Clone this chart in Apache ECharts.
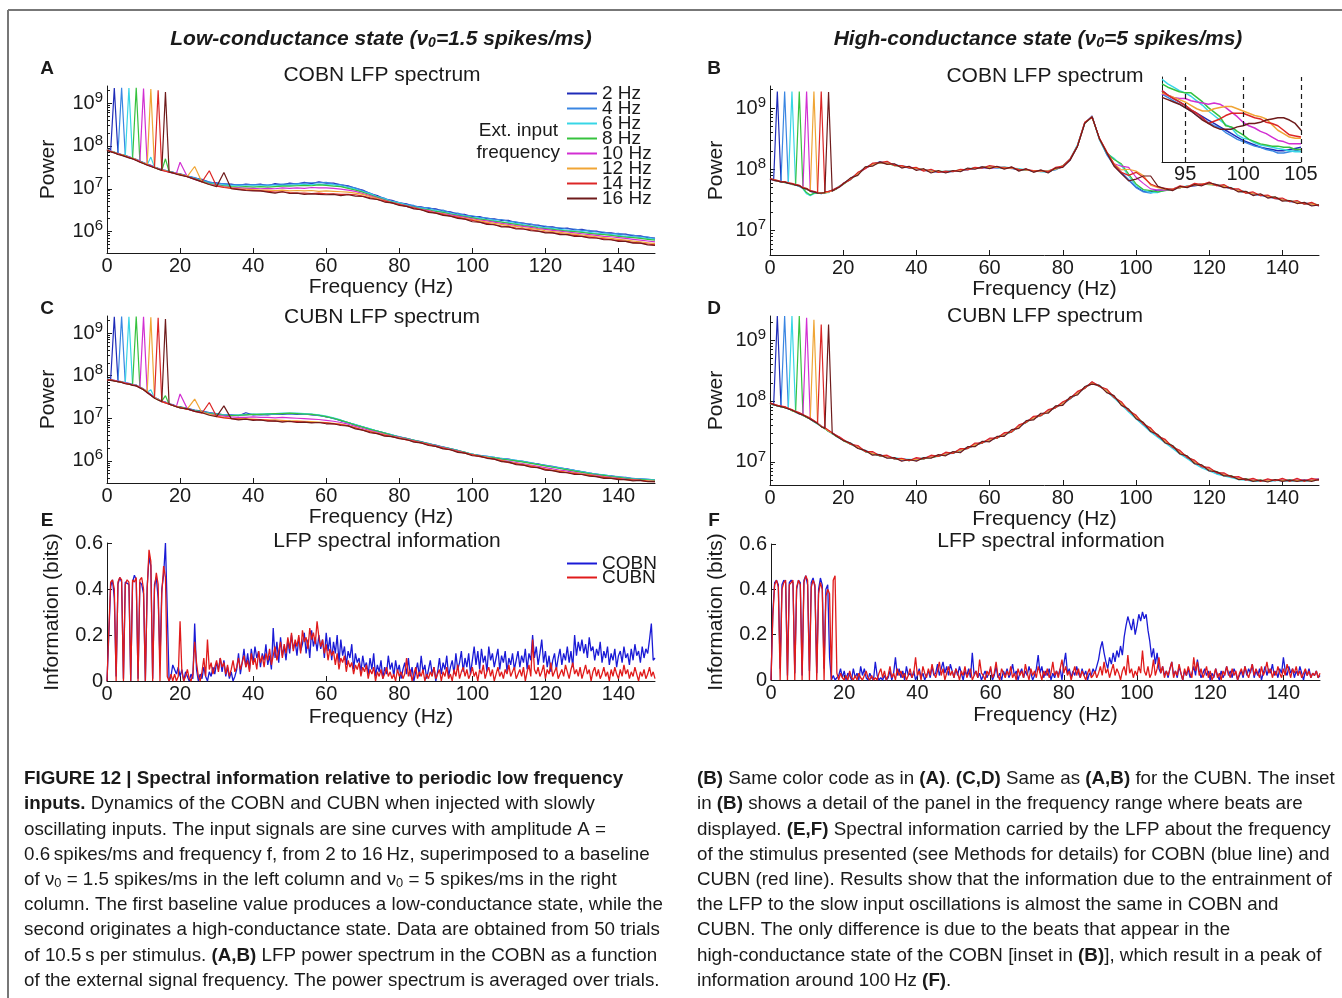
<!DOCTYPE html>
<html>
<head>
<meta charset="utf-8">
<script src="https://cdn.jsdelivr.net/npm/echarts@6/dist/echarts.min.js"></script>
<style>
  html, body { margin: 0; padding: 0; background: #fff; }
  #chart { width: 1342px; height: 998px; }
</style>
</head>
<body>
<div id="chart"></div>
<script>
// ---------- sampling grids and tick values ----------
// spectra: 1 Hz steps up to 20 Hz, then 2 Hz steps up to 150 Hz
const specFreqs = [0,1,2,3,4,5,6,7,8,9,10,11,12,13,14,15,16,17,18,19,20,
  22,24,26,28,30,32,34,36,38,40,42,44,46,48,50,52,54,56,58,60,62,64,66,68,70,72,74,76,78,80,
  82,84,86,88,90,92,94,96,98,100,102,104,106,108,110,112,114,116,118,120,
  122,124,126,128,130,132,134,136,138,140,142,144,146,148,150];
// inset of panel B: 93-105 Hz in 0.5 Hz steps
const insetFreqs = [93,93.5,94,94.5,95,95.5,96,96.5,97,97.5,98,98.5,99,99.5,100,100.5,101,101.5,102,102.5,103,103.5,104,104.5,105];
// information curves: 0-150 Hz in 0.5 Hz steps
const infoFreqs = Array.from({ length: 301 }, (_, i) => i / 2);

const freqTicks = [0, 20, 40, 60, 80, 100, 120, 140];
const decadesLow = [6, 7, 8, 9];
const decadesHigh = [7, 8, 9];
const infoTicks = [0, 0.2, 0.4, 0.6];
const insetTicks = [95, 100, 105];

const inputLabels = ['2 Hz', '4 Hz', '6 Hz', '8 Hz', '10 Hz', '12 Hz', '14 Hz', '16 Hz'];
const inputColors = ['#1f2bb8', '#3a86e2', '#38d6e6', '#36c23e', '#d22fd2', '#f0a535', '#dc2626', '#6e1b1b'];
const netLabels = ['COBN', 'CUBN'];
const netColors = ['#1a1ad6', '#e01b1b'];

// ---------- LFP power spectra, log10(power) on specFreqs ----------
// A: COBN, low-conductance state
const lowCobn2 = [7.93,7.89,9.35,7.83,7.80,7.78,7.74,7.72,7.68,7.65,7.61,7.57,7.55,7.50,7.48,7.44,7.43,7.40,7.39,7.36,7.35,
  7.30,7.25,7.22,7.15,7.14,7.11,7.11,7.08,7.11,7.09, 7.11,7.07,7.12,7.09,7.13,7.11,7.15,7.12,7.16,7.13,
  7.13,7.09,7.07,7.01,6.97,6.89,6.84,6.76,6.73,6.67, 6.65,6.59,6.58,6.54,6.53,6.48,6.46,6.41,6.40,6.35,
  6.35,6.30,6.30,6.26,6.26,6.21,6.20,6.16,6.15,6.11, 6.11,6.07,6.08,6.04,6.05,6.01,6.01,5.97,5.97,5.94, 5.94,5.90,5.90,5.86,5.85];
const lowCobn4 = [7.92,7.88,7.86,7.82,9.36,7.77,7.75,7.71,7.69,7.64,7.60,7.58,7.54,7.51,7.47,7.45,7.42,7.41,7.38,7.37,7.34,
  7.29,7.26,7.20,7.16,7.12,7.12,7.09,7.10,7.09,7.10, 7.09,7.09,7.10,7.11,7.11,7.12,7.13,7.14,7.14,7.15,
  7.11,7.10,7.05,7.02,6.95,6.90,6.82,6.78,6.71,6.68, 6.63,6.61,6.56,6.56,6.51,6.50,6.44,6.43,6.38,6.37,
  6.33,6.32,6.28,6.28,6.24,6.23,6.18,6.18,6.13,6.13, 6.09,6.09,6.06,6.06,6.03,6.03,5.99,5.99,5.95,5.96, 5.92,5.92,5.88,5.88,5.83];
const lowCobn6 = [7.91,7.88,7.85,7.81,7.80,7.76,9.35,7.70,7.68,7.63,7.60,7.56,7.74,7.50,7.46,7.44,7.41,7.40,7.37,7.36,7.33,
  7.29,7.24,7.19,7.13,7.10,7.09,7.07,7.07,7.06,7.07, 7.06,7.07,7.07,7.08,7.08,7.09,7.10,7.10,7.11,7.10,
  7.09,7.06,7.03,6.99,6.93,6.88,6.81,6.76,6.70,6.67, 6.62,6.58,6.55,6.52,6.49,6.46,6.42,6.39,6.36,6.33,
  6.31,6.28,6.26,6.23,6.21,6.19,6.16,6.13,6.11,6.09, 6.07,6.05,6.03,6.02,6.00,5.98,5.96,5.95,5.93,5.91, 5.89,5.88,5.86,5.84,5.82];
const lowCobn8 = [7.92,7.87,7.85,7.82,7.79,7.77,7.73,7.71,9.36,7.64,7.59,7.57,7.53,7.50,7.47,7.43,7.70,7.40,7.38,7.35,7.34,
  7.28,7.23,7.18,7.12,7.09,7.07,7.05,7.04,7.05,7.04, 7.05,7.04,7.05,7.06,7.06,7.07,7.08,7.07,7.09,7.08,
  7.06,7.05,7.01,6.97,6.92,6.86,6.80,6.74,6.69,6.65, 6.61,6.57,6.53,6.51,6.47,6.45,6.41,6.38,6.35,6.32,
  6.29,6.27,6.24,6.22,6.19,6.17,6.14,6.12,6.09,6.07, 6.05,6.03,6.01,6.00,5.98,5.96,5.94,5.93,5.91,5.89, 5.87,5.86,5.84,5.82,5.80];
const lowCobn10 = [7.91,7.88,7.84,7.82,7.79,7.76,7.74,7.70,7.67,7.64,9.34,7.56,7.54,7.49,7.47,7.44,7.41,7.39,7.37,7.36,7.62,
  7.28,7.22,7.17,7.11,7.08,7.05,7.03,7.02,7.01,7.01, 7.00,7.01,7.00,7.02,7.01,7.02,7.01,7.03,7.02,7.02,
  7.01,6.99,6.97,6.94,6.89,6.84,6.78,6.73,6.68,6.64, 6.60,6.56,6.52,6.49,6.45,6.42,6.39,6.36,6.33,6.30,
  6.27,6.25,6.22,6.19,6.17,6.14,6.12,6.10,6.07,6.05, 6.03,6.01,5.99,5.97,5.95,5.93,5.91,5.89,5.88,5.86, 5.84,5.82,5.80,5.78,5.76];
const lowCobn12 = [7.91,7.87,7.85,7.81,7.80,7.77,7.73,7.71,7.68,7.63,7.60,7.57,9.33,7.50,7.46,7.44,7.42,7.39,7.38,7.35,7.34,
  7.29,7.52,7.16,7.10,7.07,7.04,7.02,7.00,6.99,6.98, 6.97,6.97,6.96,6.97,6.95,6.96,6.95,6.96,6.94,6.95,
  6.94,6.93,6.92,6.90,6.87,6.82,6.77,6.72,6.67,6.63, 6.59,6.55,6.51,6.47,6.44,6.41,6.37,6.34,6.31,6.28,
  6.25,6.22,6.19,6.17,6.14,6.12,6.09,6.07,6.05,6.02, 6.00,5.98,5.96,5.94,5.92,5.90,5.88,5.86,5.84,5.82, 5.80,5.78,5.76,5.74,5.72];
const lowCobn14 = [7.90,7.87,7.84,7.81,7.79,7.76,7.73,7.70,7.67,7.63,7.59,7.56,7.53,7.49,9.30,7.43,7.41,7.39,7.37,7.35,7.33,
  7.28,7.23,7.16,7.42,7.06,7.03,7.01,6.99,6.97,6.96, 6.95,6.94,6.92,6.93,6.91,6.90,6.90,6.89,6.90,6.88,
  6.88,6.87,6.87,6.86,6.83,6.79,6.75,6.71,6.67,6.63, 6.59,6.55,6.51,6.47,6.43,6.40,6.36,6.33,6.29,6.26,
  6.22,6.19,6.16,6.13,6.11,6.08,6.06,6.04,6.01,5.99, 5.97,5.95,5.93,5.91,5.89,5.87,5.85,5.83,5.81,5.79, 5.77,5.75,5.73,5.71,5.69];
const lowCobn16 = [7.90,7.86,7.84,7.80,7.78,7.75,7.72,7.70,7.66,7.62,7.59,7.55,7.52,7.49,7.46,7.43,9.26,7.39,7.37,7.34,7.32,
  7.28,7.22,7.16,7.10,7.05,7.38,7.00,6.98,6.96,6.95, 6.95,6.92,6.90,6.93,6.89,6.90,6.87,6.88,6.87,6.86,
  6.87,6.84,6.86,6.83,6.82,6.77,6.75,6.69,6.67,6.61, 6.59,6.53,6.51,6.45,6.43,6.38,6.36,6.31,6.29,6.23,
  6.22,6.17,6.16,6.11,6.11,6.06,6.06,6.02,6.01,5.97, 5.97,5.93,5.93,5.89,5.89,5.85,5.85,5.81,5.81,5.77, 5.77,5.73,5.73,5.69,5.68];

// B: COBN, high-conductance state
const highCobn2 = [7.84,7.83,9.27,7.80,7.79,7.77,7.76,7.74,7.73,7.70,7.67,7.65,7.63,7.61,7.61,7.62,7.63,7.65,7.68,7.72,7.76,
  7.85,7.93,8.03,8.08,8.12,8.10,8.08,8.04,8.03,8.00, 7.99,7.96,7.96,7.95,7.97,7.97,8.00,8.01,8.04,8.02,
  8.04,8.02,8.02,7.99,7.99,7.97,7.97,7.96,8.00,8.04, 8.15,8.38,8.75,8.87,8.49,8.25,8.08,7.95,7.83,7.71,
  7.64,7.63,7.66,7.66,7.67,7.70,7.72,7.73,7.75,7.76, 7.74,7.71,7.69,7.65,7.62,7.59,7.58,7.55,7.53,7.50, 7.48,7.46,7.44,7.42,7.41];
const highCobn4 = [7.85,7.83,7.81,7.80,9.27,7.78,7.76,7.75,7.72,7.70,7.68,7.64,7.62,7.62,7.60,7.62,7.64,7.65,7.69,7.72,7.77,
  7.84,7.94,8.02,8.09,8.11,8.11,8.07,8.05,8.02,8.01, 7.98,7.97,7.95,7.96,7.96,7.98,7.99,8.02,8.02,8.03,
  8.02,8.03,8.01,8.00,7.98,7.98,7.96,7.97,7.99,8.05, 8.16,8.39,8.76,8.86,8.50,8.24,8.06,7.93,7.82,7.70,
  7.63,7.61,7.65,7.67,7.68,7.71,7.72,7.74,7.76,7.77, 7.75,7.72,7.68,7.66,7.63,7.60,7.57,7.56,7.52,7.51, 7.47,7.46,7.45,7.43,7.40];
const highCobn6 = [7.84,7.82,7.81,7.79,7.79,7.77,9.27,7.74,7.72,7.68,7.60,7.57,7.60,7.61,7.60,7.62,7.62,7.66,7.68,7.73,7.76,
  7.83,7.93,8.02,8.07,8.11,8.09,8.07,8.06,8.03,8.01, 7.99,7.98,7.96,7.97,7.98,7.98,8.01,8.02,8.03,8.04,
  8.03,8.04,8.02,8.01,7.99,7.97,7.96,7.95,8.01,8.05, 8.17,8.40,8.76,8.86,8.48,8.26,8.18,8.06,7.89,7.73,
  7.66,7.62,7.62,7.66,7.68,7.70,7.73,7.74,7.75,7.76, 7.74,7.72,7.70,7.64,7.62,7.60,7.58,7.56,7.53,7.49, 7.48,7.47,7.43,7.43,7.41];
const highCobn8 = [7.84,7.83,7.80,7.80,7.78,7.78,7.75,7.75,9.27,7.69,7.62,7.58,7.61,7.62,7.61,7.61,7.63,7.65,7.67,7.72,7.75,
  7.84,7.92,8.02,8.08,8.10,8.10,8.06,8.05,8.03,8.02, 7.99,7.97,7.97,7.96,7.97,7.99,8.00,8.02,8.03,8.03,
  8.03,8.02,8.02,8.00,7.98,7.98,7.97,7.98,8.00,8.06, 8.16,8.38,8.75,8.85,8.50,8.27,8.16,8.09,7.92,7.76,
  7.67,7.65,7.63,7.65,7.67,7.70,7.72,7.74,7.76,7.75, 7.74,7.73,7.69,7.65,7.63,7.60,7.58,7.56,7.54,7.50, 7.49,7.46,7.44,7.44,7.42];
const highCobn10 = [7.84,7.82,7.81,7.80,7.79,7.78,7.76,7.75,7.73,7.70,9.27,7.65,7.63,7.62,7.61,7.62,7.63,7.65,7.68,7.71,7.76,
  7.84,7.93,8.01,8.08,8.11,8.10,8.07,8.05,8.04,8.01, 7.99,7.97,7.96,7.96,7.97,7.98,8.00,8.02,8.03,8.02,
  8.03,8.03,8.02,8.00,7.99,7.98,7.97,7.97,8.01,8.05, 8.16,8.38,8.76,8.86,8.50,8.28,8.09,8.05,8.03,7.87,
  7.77,7.68,7.66,7.66,7.68,7.70,7.72,7.74,7.76,7.76, 7.74,7.72,7.69,7.65,7.62,7.60,7.58,7.56,7.53,7.50, 7.48,7.46,7.44,7.43,7.41];
const highCobn12 = [7.84,7.83,7.81,7.80,7.79,7.78,7.76,7.75,7.73,7.70,7.68,7.65,9.27,7.62,7.61,7.62,7.63,7.65,7.68,7.72,7.76,
  7.84,7.93,8.02,8.08,8.11,8.10,8.07,8.05,8.03,8.01, 7.99,7.97,7.96,7.96,7.97,7.98,8.00,8.02,8.03,8.03,
  8.03,8.03,8.02,8.00,7.99,7.98,7.97,7.97,8.00,8.05, 8.16,8.38,8.76,8.86,8.50,8.28,8.09,7.99,8.00,7.97,
  7.90,7.74,7.70,7.67,7.68,7.70,7.72,7.74,7.76,7.76, 7.74,7.72,7.69,7.65,7.62,7.60,7.58,7.56,7.53,7.50, 7.48,7.46,7.44,7.43,7.41];
const highCobn14 = [7.85,7.83,7.82,7.80,7.80,7.78,7.77,7.75,7.74,7.70,7.69,7.65,7.64,7.62,9.27,7.63,7.64,7.66,7.69,7.72,7.77,
  7.83,7.95,8.01,8.10,8.11,8.13,8.06,8.06,8.02,8.03, 7.97,8.00,7.95,7.97,7.96,8.00,7.99,8.03,8.02,8.06,
  8.04,8.02,8.03,7.99,8.00,7.97,7.98,7.96,8.03,8.05, 8.17,8.38,8.77,8.85,8.51,8.29,8.08,7.95,7.90,7.95,
  7.87,7.76,7.71,7.69,7.67,7.73,7.71,7.77,7.75,7.79, 7.73,7.75,7.68,7.68,7.61,7.63,7.57,7.58,7.52,7.53, 7.47,7.49,7.43,7.46,7.40];
const highCobn16 = [7.84,7.82,7.81,7.79,7.79,7.77,7.76,7.74,7.73,7.69,7.68,7.64,7.63,7.61,7.61,7.62,9.26,7.64,7.68,7.71,7.76,
  7.86,7.90,8.04,8.05,8.12,8.08,8.09,8.02,8.05,7.98, 8.01,7.94,7.98,7.94,7.98,7.96,8.02,8.00,8.04,8.01,
  8.05,8.00,8.04,7.97,8.01,7.95,7.99,7.94,8.02,8.03, 8.15,8.37,8.75,8.86,8.50,8.27,8.05,7.93,7.81,7.84,
  7.89,7.89,7.72,7.68,7.65,7.72,7.70,7.75,7.73,7.78, 7.75,7.70,7.70,7.63,7.64,7.57,7.60,7.53,7.55,7.48, 7.49,7.44,7.46,7.40,7.42];

// C: CUBN, low-conductance state
const lowCubn2 = [7.92,7.91,9.38,7.87,7.86,7.83,7.82,7.79,7.78,7.73,7.69,7.62,7.56,7.49,7.45,7.40,7.38,7.34,7.32,7.28,7.27,
  7.23,7.19,7.17,7.13,7.11,7.08,7.08,7.06,7.13,7.08, 7.09,7.08,7.10,7.09,7.11,7.09,7.10,7.08,7.07,7.03,
  7.00,6.94,6.90,6.84,6.80,6.74,6.70,6.65,6.61,6.56, 6.53,6.48,6.45,6.40,6.37,6.32,6.29,6.24,6.20,6.15,
  6.13,6.10,6.08,6.05,6.04,6.00,5.99,5.95,5.93,5.89, 5.87,5.83,5.81,5.77,5.75,5.71,5.69,5.66,5.65,5.62, 5.61,5.58,5.58,5.56,5.55];
const lowCubn4 = [7.91,7.90,7.89,7.86,9.39,7.83,7.81,7.79,7.77,7.72,7.68,7.61,7.55,7.48,7.44,7.39,7.37,7.33,7.31,7.28,7.25,
  7.22,7.18,7.16,7.12,7.10,7.08,7.07,7.07,7.08,7.09, 7.08,7.09,7.09,7.10,7.10,7.10,7.09,7.09,7.06,7.04,
  6.99,6.95,6.89,6.85,6.79,6.75,6.69,6.66,6.60,6.57, 6.52,6.49,6.44,6.41,6.36,6.33,6.28,6.25,6.19,6.16,
  6.12,6.11,6.07,6.06,6.03,6.01,5.98,5.96,5.92,5.90, 5.86,5.84,5.80,5.78,5.74,5.72,5.68,5.67,5.64,5.63, 5.60,5.59,5.57,5.57,5.55];
const lowCubn6 = [7.92,7.90,7.88,7.87,7.85,7.82,9.38,7.78,7.77,7.72,7.68,7.61,7.67,7.48,7.44,7.40,7.36,7.34,7.30,7.28,7.25,
  7.22,7.18,7.15,7.12,7.10,7.08,7.07,7.08,7.09,7.10, 7.10,7.11,7.11,7.12,7.12,7.12,7.11,7.10,7.08,7.05,
  7.01,6.96,6.90,6.85,6.80,6.75,6.70,6.65,6.61,6.56, 6.52,6.48,6.44,6.40,6.36,6.32,6.28,6.24,6.20,6.16,
  6.12,6.10,6.08,6.05,6.03,6.01,5.98,5.95,5.92,5.89, 5.86,5.83,5.80,5.77,5.74,5.71,5.69,5.67,5.64,5.62, 5.60,5.58,5.57,5.56,5.55];
const lowCubn8 = [7.91,7.91,7.88,7.86,7.85,7.82,7.81,7.78,9.39,7.72,7.67,7.62,7.54,7.49,7.43,7.40,7.53,7.33,7.31,7.27,7.26,
  7.22,7.18,7.15,7.11,7.09,7.07,7.06,7.07,7.08,7.09, 7.09,7.10,7.11,7.11,7.12,7.11,7.10,7.09,7.07,7.04,
  7.00,6.95,6.90,6.84,6.79,6.74,6.70,6.65,6.60,6.56, 6.52,6.48,6.44,6.40,6.36,6.32,6.28,6.24,6.20,6.15,
  6.12,6.09,6.07,6.04,6.02,6.00,5.97,5.94,5.91,5.88, 5.85,5.82,5.79,5.76,5.73,5.70,5.68,5.66,5.63,5.61, 5.59,5.57,5.56,5.55,5.54];
const lowCubn10 = [7.91,7.90,7.89,7.87,7.84,7.83,7.80,7.79,7.76,7.73,9.38,7.61,7.55,7.48,7.44,7.39,7.37,7.33,7.31,7.28,7.57,
  7.22,7.17,7.14,7.10,7.07,7.05,7.03,7.02,7.02,7.03, 7.02,7.02,7.01,7.02,7.01,7.00,6.99,6.98,6.97,6.95,
  6.93,6.90,6.86,6.81,6.76,6.71,6.67,6.62,6.58,6.55, 6.51,6.47,6.43,6.39,6.35,6.31,6.27,6.23,6.19,6.14,
  6.11,6.08,6.05,6.02,5.99,5.96,5.93,5.90,5.87,5.84, 5.81,5.78,5.76,5.73,5.70,5.68,5.66,5.63,5.61,5.59, 5.57,5.56,5.54,5.53,5.52];
const lowCubn12 = [7.91,7.90,7.88,7.86,7.85,7.82,7.80,7.78,7.77,7.72,7.68,7.62,9.37,7.48,7.44,7.39,7.36,7.34,7.30,7.28,7.25,
  7.22,7.45,7.13,7.09,7.05,7.02,7.00,6.99,6.99,6.98, 6.97,6.96,6.96,6.95,6.94,6.94,6.93,6.92,6.91,6.90,
  6.88,6.86,6.83,6.78,6.73,6.69,6.65,6.61,6.57,6.54, 6.50,6.46,6.42,6.38,6.34,6.30,6.26,6.22,6.18,6.14,
  6.11,6.08,6.04,6.01,5.97,5.94,5.91,5.88,5.85,5.81, 5.78,5.76,5.73,5.71,5.69,5.67,5.64,5.62,5.60,5.58, 5.56,5.55,5.54,5.53,5.52];
const lowCubn14 = [7.90,7.90,7.88,7.86,7.84,7.82,7.80,7.78,7.76,7.72,7.67,7.61,7.54,7.48,9.36,7.39,7.36,7.33,7.30,7.27,7.25,
  7.21,7.16,7.12,7.37,7.04,7.01,6.99,6.98,6.97,6.97, 6.96,6.95,6.93,6.93,6.92,6.92,6.91,6.90,6.90,6.89,
  6.87,6.85,6.82,6.77,6.72,6.68,6.64,6.60,6.57,6.53, 6.49,6.46,6.42,6.38,6.34,6.30,6.26,6.22,6.18,6.14,
  6.10,6.07,6.04,6.00,5.96,5.93,5.90,5.87,5.84,5.80, 5.77,5.75,5.72,5.70,5.68,5.66,5.63,5.61,5.59,5.58, 5.56,5.55,5.54,5.52,5.51];
const lowCubn16 = [7.90,7.89,7.87,7.86,7.84,7.81,7.80,7.77,7.76,7.71,7.67,7.60,7.54,7.47,7.43,7.39,9.33,7.33,7.30,7.27,7.24,
  7.22,7.16,7.13,7.07,7.04,7.29,6.99,6.96,6.98,6.95, 6.96,6.93,6.94,6.91,6.93,6.90,6.91,6.89,6.90,6.87,
  6.87,6.83,6.82,6.75,6.72,6.66,6.64,6.58,6.57,6.52, 6.50,6.44,6.42,6.36,6.34,6.28,6.26,6.20,6.18,6.12,
  6.11,6.06,6.04,5.98,5.97,5.91,5.90,5.85,5.84,5.78, 5.77,5.73,5.72,5.68,5.68,5.64,5.63,5.59,5.59,5.56, 5.56,5.53,5.54,5.51,5.51];

// D: CUBN, high-conductance state
const highCubn2 = [7.96,7.94,9.40,7.91,7.90,7.88,7.85,7.82,7.80,7.77,7.74,7.71,7.67,7.63,7.59,7.55,7.51,7.47,7.44,7.40,7.36,
  7.30,7.23,7.18,7.13,7.11,7.07,7.06,7.03,7.03,7.03, 7.06,7.07,7.10,7.12,7.15,7.18,7.23,7.27,7.32,7.35,
  7.40,7.44,7.50,7.57,7.66,7.71,7.77,7.82,7.90,7.95, 8.04,8.12,8.22,8.29,8.25,8.16,8.06,7.95,7.84,7.72,
  7.61,7.51,7.42,7.33,7.24,7.15,7.07,6.99,6.92,6.87, 6.82,6.78,6.76,6.72,6.71,6.69,6.69,6.68,6.70,6.69, 6.70,6.69,6.69,6.70,6.71];
const highCubn4 = [7.95,7.94,7.92,7.91,9.40,7.87,7.85,7.82,7.79,7.77,7.73,7.71,7.66,7.63,7.58,7.55,7.50,7.47,7.43,7.39,7.36,
  7.29,7.24,7.17,7.14,7.10,7.08,7.05,7.04,7.02,7.05, 7.05,7.09,7.09,7.13,7.14,7.19,7.22,7.28,7.31,7.37,
  7.39,7.46,7.49,7.58,7.65,7.73,7.76,7.84,7.89,7.97, 8.05,8.14,8.21,8.31,8.24,8.18,8.06,7.97,7.84,7.75,
  7.62,7.54,7.42,7.35,7.24,7.17,7.07,7.01,6.92,6.89, 6.82,6.80,6.75,6.74,6.70,6.71,6.68,6.70,6.69,6.71, 6.68,6.71,6.68,6.71,6.70];
const highCubn6 = [7.96,7.93,7.93,7.90,7.90,7.87,9.40,7.81,7.80,7.76,7.74,7.70,7.67,7.62,7.59,7.54,7.51,7.46,7.43,7.39,7.36,
  7.31,7.24,7.19,7.14,7.12,7.08,7.07,7.05,7.04,7.04, 7.07,7.08,7.11,7.13,7.16,7.19,7.24,7.28,7.33,7.36,
  7.41,7.45,7.51,7.58,7.67,7.72,7.78,7.83,7.91,7.96, 8.06,8.13,8.23,8.30,8.26,8.16,8.05,7.94,7.82,7.71,
  7.60,7.49,7.40,7.31,7.22,7.13,7.05,6.97,6.90,6.85, 6.80,6.77,6.74,6.71,6.70,6.68,6.68,6.68,6.69,6.69, 6.68,6.69,6.68,6.69,6.70];
const highCubn8 = [7.95,7.94,7.92,7.91,7.89,7.88,7.84,7.82,9.40,7.77,7.73,7.71,7.66,7.63,7.58,7.55,7.50,7.47,7.42,7.40,7.35,
  7.29,7.24,7.17,7.14,7.10,7.09,7.05,7.05,7.02,7.04, 7.05,7.08,7.09,7.14,7.14,7.20,7.22,7.29,7.31,7.37,
  7.39,7.46,7.49,7.59,7.65,7.73,7.76,7.84,7.89,7.97, 8.04,8.14,8.21,8.31,8.24,8.18,8.07,7.97,7.86,7.75,
  7.64,7.54,7.44,7.35,7.26,7.17,7.09,7.01,6.94,6.88, 6.84,6.79,6.77,6.73,6.72,6.70,6.70,6.69,6.71,6.70, 6.70,6.70,6.70,6.70,6.72];
const highCubn10 = [7.96,7.94,7.93,7.92,7.90,7.88,7.85,7.83,7.80,7.78,9.37,7.72,7.67,7.64,7.59,7.56,7.51,7.48,7.43,7.41,7.36,
  7.30,7.25,7.18,7.15,7.11,7.09,7.06,7.05,7.03,7.05, 7.06,7.09,7.10,7.14,7.15,7.20,7.23,7.29,7.32,7.37,
  7.40,7.46,7.50,7.59,7.66,7.73,7.77,7.84,7.90,7.97, 8.05,8.14,8.22,8.31,8.25,8.18,8.07,7.97,7.85,7.75,
  7.63,7.54,7.43,7.35,7.25,7.17,7.08,7.01,6.93,6.89, 6.83,6.80,6.76,6.74,6.71,6.71,6.69,6.70,6.70,6.71, 6.69,6.71,6.70,6.71,6.72];
const highCubn12 = [7.96,7.94,7.93,7.91,7.90,7.88,7.85,7.82,7.80,7.77,7.74,7.71,9.34,7.63,7.59,7.55,7.51,7.47,7.43,7.40,7.36,
  7.30,7.24,7.18,7.14,7.11,7.08,7.06,7.04,7.03,7.04, 7.06,7.08,7.10,7.13,7.15,7.19,7.23,7.28,7.32,7.36,
  7.40,7.45,7.50,7.58,7.66,7.72,7.77,7.83,7.90,7.96, 8.05,8.13,8.22,8.30,8.25,8.17,8.07,7.96,7.85,7.74,
  7.63,7.53,7.43,7.34,7.25,7.16,7.08,7.00,6.93,6.88, 6.83,6.79,6.76,6.73,6.71,6.70,6.69,6.69,6.70,6.70, 6.69,6.70,6.69,6.70,6.71];
const highCubn14 = [7.97,7.95,7.93,7.92,7.91,7.88,7.86,7.83,7.81,7.78,7.75,7.72,7.68,7.64,9.26,7.56,7.52,7.48,7.44,7.41,7.37,
  7.29,7.27,7.17,7.17,7.10,7.11,7.05,7.06,7.02,7.07, 7.05,7.11,7.09,7.16,7.14,7.22,7.22,7.31,7.31,7.39,
  7.39,7.48,7.49,7.61,7.65,7.75,7.76,7.86,7.89,7.99, 8.04,8.16,8.21,8.32,8.24,8.20,8.06,7.99,7.84,7.77,
  7.62,7.56,7.42,7.37,7.24,7.19,7.07,7.03,6.92,6.91, 6.82,6.82,6.75,6.76,6.70,6.73,6.68,6.72,6.69,6.73, 6.68,6.73,6.68,6.73,6.70];
const highCubn16 = [7.96,7.94,7.92,7.91,7.89,7.87,7.85,7.82,7.79,7.77,7.74,7.70,7.67,7.63,7.58,7.55,9.26,7.47,7.43,7.39,7.35,
  7.31,7.22,7.19,7.11,7.12,7.06,7.07,7.01,7.04,7.01, 7.07,7.06,7.12,7.10,7.17,7.15,7.25,7.25,7.34,7.33,
  7.42,7.42,7.53,7.55,7.68,7.69,7.80,7.80,7.92,7.93, 8.07,8.10,8.24,8.28,8.26,8.14,8.09,7.93,7.87,7.71,
  7.65,7.50,7.45,7.31,7.27,7.13,7.10,6.97,6.95,6.85, 6.84,6.77,6.77,6.71,6.72,6.68,6.70,6.67,6.71,6.68, 6.70,6.68,6.70,6.68,6.71];

// inset of B: beats between 93 and 105 Hz, log10(power) on insetFreqs
const beats2 = [8.15,8.11,8.08,8.05,8.02,7.98,7.95,7.92,7.89,7.86,7.83,7.80,7.77,7.74,7.71,7.69,7.67,7.65,7.64,7.63,7.62,7.62,7.63,7.64,7.65];
const beats4 = [8.12,8.09,8.06,8.03,8.00,7.97,7.93,7.90,7.87,7.84,7.82,7.78,7.75,7.72,7.70,7.68,7.66,7.65,7.63,7.62,7.60,7.60,7.61,7.62,7.63];
const beats6 = [8.25,8.21,8.18,8.15,8.13,8.10,8.06,8.02,7.97,7.93,7.89,7.85,7.82,7.76,7.73,7.72,7.69,7.67,7.66,7.65,7.64,7.63,7.62,7.61,7.61];
const beats8 = [8.21,8.18,8.16,8.14,8.13,8.13,8.09,8.05,8.00,7.96,7.92,7.84,7.83,7.79,7.76,7.72,7.70,7.68,7.67,7.66,7.66,7.65,7.65,7.63,7.63];
const beats10 = [8.12,8.11,8.09,8.08,8.08,8.06,8.05,8.04,8.03,8.04,8.03,8.00,7.96,7.92,7.87,7.84,7.82,7.79,7.77,7.74,7.71,7.70,7.68,7.68,7.68];
const beats12 = [8.13,8.11,8.09,8.07,8.05,8.02,7.99,7.97,7.97,7.99,8.00,8.01,8.01,7.99,7.97,7.95,7.93,7.92,7.90,7.85,7.80,7.77,7.74,7.73,7.73];
const beats14 = [8.15,8.11,8.08,8.05,8.02,7.98,7.95,7.91,7.86,7.88,7.90,7.93,7.95,7.95,7.95,7.93,7.91,7.90,7.87,7.86,7.84,7.80,7.76,7.75,7.74];
const beats16 = [8.09,8.07,8.05,8.03,8.00,7.97,7.93,7.89,7.86,7.83,7.81,7.81,7.81,7.83,7.84,7.86,7.86,7.87,7.89,7.90,7.91,7.91,7.89,7.86,7.80];

// ---------- spectral information (bits) on infoFreqs ----------
const infoLowCobn = [0.00,0.20,0.41,0.44,0.36,0.02,0.42,0.45,0.43,0.01,0.43,0.43,0.42,0.00,0.43,0.46,0.44,0.01,0.43,0.42,0.38,0.00,0.41,0.54,0.50,0.01,0.42,0.45,0.36,0.08,0.40,0.46,0.60,0.30,0.00,0.02,0.07,
  0.07,0.03,0.06,0.02,0.05,0.00,0.04,0.02,0.00,0.03,0.01,0.25,0.05,0.00,0.03,0.01,0.06,0.02,0.00,0.04,
  0.02,0.06,0.03,0.08,0.05,0.10,0.04,0.09,0.02,0.06,0.01,0.04,0.00,0.02,0.05,0.12,0.03,0.08,0.14,0.06,
  0.12,0.05,0.14,0.08,0.15,0.10,0.13,0.06,0.12,0.09,0.16,0.07,0.11,0.05,0.23,0.10,0.17,0.08,0.19,0.11,
  0.15,0.09,0.18,0.12,0.20,0.14,0.17,0.11,0.19,0.13,0.16,0.21,0.12,0.18,0.10,0.22,0.15,0.19,0.13,0.20,
  0.14,0.18,0.10,0.21,0.13,0.19,0.09,0.17,0.12,0.20,0.08,0.18,0.11,0.15,0.07,0.13,0.10,0.16,0.05,0.12,
  0.08,0.10,0.04,0.11,0.06,0.08,0.03,0.10,0.05,0.12,0.02,0.07,0.04,0.09,0.01,0.06,0.03,0.11,0.05,0.08,
  0.02,0.09,0.04,0.07,0.01,0.05,0.08,0.03,0.10,0.02,0.06,0.00,0.04,0.08,0.02,0.11,0.04,0.07,0.01,0.05,
  0.09,0.03,0.06,0.00,0.04,0.10,0.03,0.08,0.05,0.11,0.02,0.06,0.09,0.03,0.12,0.05,0.08,0.13,0.04,0.10,
  0.06,0.12,0.03,0.09,0.15,0.07,0.13,0.05,0.14,0.08,0.11,0.04,0.15,0.09,0.12,0.06,0.10,0.14,0.05,0.11,
  0.08,0.13,0.04,0.10,0.07,0.12,0.05,0.09,0.13,0.06,0.11,0.08,0.14,0.05,0.12,0.09,0.20,0.10,0.15,0.07,
  0.12,0.18,0.08,0.13,0.06,0.11,0.04,0.09,0.12,0.05,0.10,0.14,0.07,0.12,0.09,0.15,0.08,0.13,0.06,0.20,
  0.11,0.17,0.13,0.18,0.12,0.16,0.10,0.19,0.13,0.15,0.09,0.14,0.11,0.17,0.08,0.13,0.10,0.15,0.07,0.12,
  0.09,0.14,0.06,0.11,0.13,0.08,0.15,0.10,0.12,0.07,0.14,0.09,0.16,0.11,0.13,0.08,0.15,0.10,0.14,0.12,
  0.18,0.25,0.09,0.10];
const infoLowCubn = [0.00,0.22,0.43,0.44,0.40,0.00,0.43,0.45,0.44,0.00,0.42,0.44,0.43,0.00,0.44,0.43,0.45,0.00,0.44,0.45,0.40,0.00,0.40,0.57,0.52,0.00,0.40,0.47,0.42,0.00,0.38,0.50,0.45,0.02,0.00,0.03,0.00,
  0.03,0.00,0.02,0.26,0.04,0.00,0.02,0.05,0.01,0.00,0.03,0.17,0.08,0.02,0.00,0.04,0.10,0.02,0.18,0.05,
  0.08,0.03,0.06,0.09,0.04,0.10,0.06,0.08,0.03,0.07,0.02,0.05,0.09,0.04,0.06,0.10,0.05,0.08,0.11,0.06,
  0.09,0.04,0.12,0.07,0.10,0.05,0.13,0.08,0.11,0.06,0.12,0.09,0.14,0.07,0.11,0.15,0.09,0.13,0.17,0.10,
  0.16,0.12,0.19,0.14,0.21,0.13,0.18,0.15,0.20,0.12,0.22,0.17,0.19,0.14,0.23,0.18,0.21,0.16,0.26,0.19,
  0.15,0.18,0.12,0.16,0.09,0.14,0.11,0.13,0.07,0.12,0.05,0.10,0.08,0.11,0.04,0.09,0.06,0.08,0.03,0.07,
  0.05,0.08,0.02,0.06,0.04,0.07,0.01,0.05,0.03,0.06,0.00,0.04,0.02,0.05,0.01,0.03,0.06,0.02,0.04,0.01,
  0.03,0.00,0.05,0.02,0.04,0.01,0.03,0.10,0.02,0.05,0.00,0.03,0.06,0.01,0.04,0.02,0.05,0.00,0.03,0.01,
  0.04,0.02,0.06,0.01,0.03,0.05,0.00,0.04,0.02,0.06,0.01,0.03,0.00,0.05,0.02,0.07,0.01,0.04,0.06,0.02,
  0.05,0.01,0.03,0.06,0.02,0.04,0.00,0.05,0.03,0.07,0.01,0.04,0.06,0.02,0.05,0.00,0.03,0.06,0.02,0.04,
  0.01,0.05,0.03,0.07,0.02,0.04,0.06,0.01,0.03,0.05,0.02,0.06,0.00,0.04,0.07,0.02,0.18,0.05,0.03,0.06,
  0.02,0.04,0.07,0.01,0.05,0.03,0.08,0.02,0.04,0.06,0.01,0.03,0.05,0.02,0.07,0.04,0.01,0.05,0.08,0.03,
  0.05,0.02,0.06,0.01,0.04,0.07,0.03,0.05,0.00,0.04,0.06,0.02,0.05,0.01,0.03,0.06,0.02,0.04,0.00,0.05,
  0.02,0.06,0.03,0.01,0.05,0.02,0.07,0.03,0.05,0.01,0.04,0.02,0.06,0.03,0.00,0.04,0.02,0.05,0.01,0.03,
  0.06,0.02,0.04,0.01];
const infoHighCobn = [0.00,0.30,0.43,0.44,0.42,0.05,0.42,0.44,0.43,0.02,0.43,0.44,0.43,0.03,0.40,0.44,0.43,0.02,0.44,0.46,0.42,0.04,0.43,0.45,0.41,0.03,0.40,0.45,0.42,0.05,0.40,0.42,0.10,0.00,0.02,0.00,0.01,
  0.02,0.05,0.01,0.04,0.00,0.03,0.02,0.00,0.05,0.01,0.03,0.00,0.06,0.02,0.05,0.01,0.00,0.03,0.01,0.00,
  0.08,0.02,0.00,0.01,0.00,0.02,0.00,0.01,0.04,0.00,0.03,0.10,0.02,0.05,0.01,0.04,0.00,0.06,0.02,0.03,
  0.01,0.04,0.00,0.02,0.05,0.01,0.03,0.00,0.02,0.04,0.01,0.06,0.02,0.03,0.07,0.02,0.05,0.08,0.03,0.06,
  0.02,0.07,0.04,0.01,0.05,0.02,0.06,0.03,0.00,0.04,0.02,0.05,0.01,0.12,0.02,0.04,0.01,0.03,0.00,0.02,
  0.04,0.01,0.03,0.05,0.00,0.02,0.06,0.01,0.03,0.00,0.04,0.02,0.05,0.01,0.03,0.07,0.02,0.04,0.00,0.03,
  0.05,0.01,0.04,0.02,0.06,0.03,0.00,0.02,0.05,0.11,0.03,0.06,0.01,0.04,0.02,0.05,0.00,0.03,0.01,0.04,
  0.02,0.05,0.00,0.07,0.12,0.03,0.05,0.01,0.04,0.02,0.06,0.03,0.01,0.05,0.02,0.04,0.00,0.03,0.02,0.05,
  0.03,0.06,0.09,0.14,0.17,0.12,0.08,0.05,0.10,0.07,0.12,0.08,0.13,0.10,0.15,0.11,0.19,0.24,0.28,0.25,
  0.22,0.27,0.20,0.24,0.29,0.26,0.30,0.27,0.29,0.22,0.17,0.10,0.14,0.07,0.12,0.05,0.03,0.06,0.02,0.04,
  0.01,0.05,0.08,0.02,0.04,0.01,0.06,0.03,0.00,0.04,0.02,0.05,0.01,0.03,0.06,0.02,0.09,0.04,0.01,0.03,
  0.05,0.02,0.04,0.00,0.03,0.01,0.05,0.02,0.00,0.04,0.01,0.03,0.06,0.02,0.04,0.01,0.05,0.03,0.00,0.02,
  0.04,0.01,0.06,0.02,0.05,0.03,0.07,0.01,0.04,0.02,0.05,0.00,0.03,0.06,0.02,0.05,0.03,0.07,0.02,0.04,
  0.01,0.05,0.03,0.10,0.04,0.02,0.06,0.03,0.05,0.01,0.04,0.02,0.06,0.03,0.00,0.04,0.02,0.05,0.01,0.03,
  0.02,0.04,0.01,0.02];
const infoHighCubn = [0.00,0.28,0.42,0.44,0.41,0.00,0.40,0.43,0.44,0.00,0.42,0.43,0.44,0.00,0.41,0.44,0.42,0.00,0.43,0.46,0.44,0.00,0.41,0.44,0.42,0.00,0.38,0.43,0.40,0.00,0.37,0.40,0.38,0.00,0.44,0.46,0.03,
  0.00,0.03,0.01,0.00,0.02,0.00,0.04,0.01,0.00,0.02,0.00,0.03,0.01,0.00,0.02,0.04,0.01,0.00,0.02,0.00,
  0.01,0.00,0.03,0.05,0.01,0.04,0.00,0.02,0.06,0.01,0.03,0.00,0.05,0.02,0.04,0.01,0.03,0.00,0.02,0.05,
  0.01,0.03,0.10,0.02,0.04,0.00,0.06,0.03,0.01,0.05,0.02,0.07,0.03,0.01,0.04,0.08,0.02,0.05,0.00,0.03,
  0.06,0.02,0.04,0.01,0.05,0.03,0.00,0.04,0.02,0.06,0.01,0.03,0.05,0.00,0.02,0.04,0.01,0.09,0.03,0.02,
  0.00,0.04,0.02,0.06,0.01,0.03,0.08,0.02,0.00,0.05,0.03,0.01,0.04,0.02,0.06,0.01,0.03,0.00,0.05,0.02,
  0.04,0.01,0.07,0.03,0.00,0.05,0.02,0.04,0.01,0.06,0.03,0.00,0.04,0.02,0.05,0.01,0.03,0.08,0.02,0.04,
  0.01,0.05,0.09,0.03,0.06,0.02,0.04,0.00,0.03,0.06,0.02,0.05,0.01,0.04,0.02,0.00,0.03,0.05,0.01,0.02,
  0.04,0.01,0.03,0.06,0.02,0.08,0.03,0.05,0.01,0.04,0.07,0.02,0.05,0.03,0.00,0.04,0.06,0.02,0.11,0.03,
  0.05,0.01,0.04,0.02,0.06,0.03,0.13,0.04,0.02,0.06,0.01,0.03,0.09,0.02,0.05,0.10,0.03,0.06,0.01,0.04,
  0.02,0.05,0.08,0.01,0.04,0.02,0.07,0.03,0.00,0.05,0.02,0.06,0.03,0.01,0.10,0.04,0.08,0.02,0.05,0.01,
  0.03,0.06,0.01,0.04,0.00,0.02,0.05,0.01,0.03,0.00,0.04,0.02,0.06,0.03,0.01,0.05,0.02,0.04,0.00,0.03,
  0.05,0.02,0.06,0.03,0.01,0.04,0.07,0.02,0.05,0.03,0.01,0.06,0.02,0.04,0.08,0.03,0.05,0.01,0.04,0.02,
  0.06,0.03,0.01,0.05,0.02,0.07,0.04,0.01,0.05,0.03,0.06,0.02,0.04,0.01,0.03,0.05,0.02,0.04,0.01,0.03,
  0.02,0.04,0.01,0.03];

// ---------- caption ----------
const captionLeft = [
  '{bb|FIGURE 12 | Spectral information relative to periodic low frequency}',
  '{bb|inputs.} Dynamics of the COBN and CUBN when injected with slowly',
  'oscillating inputs. The input signals are sine curves with amplitude A =',
  '0.6\u2009spikes/ms and frequency f, from 2 to 16\u2009Hz, superimposed to a baseline',
  'of \u03bd{sub|0} = 1.5 spikes/ms in the left column and \u03bd{sub|0} = 5 spikes/ms in the right',
  'column. The first baseline value produces a low-conductance state, while the',
  'second originates a high-conductance state. Data are obtained from 50 trials',
  'of 10.5\u2009s per stimulus. {bb|(A,B)} LFP power spectrum in the COBN as a function',
  'of the external signal frequency. The power spectrum is averaged over trials.'
];
const captionRight = [
  '{bb|(B)} Same color code as in {bb|(A)}. {bb|(C,D)} Same as {bb|(A,B)} for the CUBN. The inset',
  'in {bb|(B)} shows a detail of the panel in the frequency range where beats are',
  'displayed. {bb|(E,F)} Spectral information carried by the LFP about the frequency',
  'of the stimulus presented (see Methods for details) for COBN (blue line) and',
  'CUBN (red line). Results show that the information due to the entrainment of',
  'the LFP to the slow input oscillations is almost the same in COBN and',
  'CUBN. The only difference is due to the beats that appear in the',
  'high-conductance state of the COBN [inset in {bb|(B)}], which result in a peak of',
  'information around 100\u2009Hz {bb|(F)}.'
];

// ---------- rendering ----------
const FONT = '"Liberation Sans", Arial, Helvetica, sans-serif';
const INK = '#1a1a1a';

const lowCobnSet = [lowCobn2, lowCobn4, lowCobn6, lowCobn8, lowCobn10, lowCobn12, lowCobn14, lowCobn16];
const highCobnSet = [highCobn2, highCobn4, highCobn6, highCobn8, highCobn10, highCobn12, highCobn14, highCobn16];
const lowCubnSet = [lowCubn2, lowCubn4, lowCubn6, lowCubn8, lowCubn10, lowCubn12, lowCubn14, lowCubn16];
const highCubnSet = [highCubn2, highCubn4, highCubn6, highCubn8, highCubn10, highCubn12, highCubn14, highCubn16];
const beatSet = [beats2, beats4, beats6, beats8, beats10, beats12, beats14, beats16];

// minor ticks of a log axis: log10(k * 10^n), k = 2..9
function minorLogTicks(min, max) {
  const out = [];
  for (let n = Math.floor(min); n <= Math.ceil(max); n++) {
    for (let k = 2; k <= 9; k++) {
      const v = n + Math.log10(k);
      if (v > min && v < max) out.push(v);
    }
  }
  return out;
}

const axisLineStyle = { color: INK, width: 1 };

function freqXAxis(gridIndex, nameGap) {
  return {
    type: 'value', gridIndex, min: 0, max: 150,
    axisLine: { show: true, onZero: false, lineStyle: axisLineStyle },
    axisTick: { show: true, inside: true, length: 5, customValues: freqTicks, lineStyle: axisLineStyle },
    axisLabel: { customValues: freqTicks, margin: 3, fontSize: 20, fontFamily: FONT, color: INK },
    splitLine: { show: false },
    name: 'Frequency (Hz)', nameLocation: 'middle', nameGap,
    nameTextStyle: { fontSize: 21, fontFamily: FONT, color: INK }
  };
}

function powerYAxes(gridIndex, min, max, decades, nameGap) {
  return [{
    type: 'value', gridIndex, min, max, position: 'left',
    axisLine: { show: true, onZero: false, lineStyle: axisLineStyle },
    axisTick: { show: true, inside: true, length: 5, customValues: decades, lineStyle: axisLineStyle },
    axisLabel: {
      customValues: decades, margin: 4, color: INK,
      formatter: v => '{b|10}{e|' + Math.round(v) + '}',
      rich: {
        b: { fontSize: 20, fontFamily: FONT, color: INK },
        e: { fontSize: 15, fontFamily: FONT, color: INK, padding: [0, 0, 11, 0] }
      }
    },
    splitLine: { show: false },
    name: 'Power', nameLocation: 'middle', nameGap,
    nameTextStyle: { fontSize: 21, fontFamily: FONT, color: INK }
  }, {
    type: 'value', gridIndex, min, max, position: 'left',
    axisLine: { show: false },
    axisTick: { show: true, inside: true, length: 3, customValues: minorLogTicks(min, max), lineStyle: axisLineStyle },
    axisLabel: { show: false },
    splitLine: { show: false }
  }];
}

function infoYAxis(gridIndex, nameGap) {
  return {
    type: 'value', gridIndex, min: 0, max: 0.6, position: 'left',
    axisLine: { show: true, onZero: false, lineStyle: axisLineStyle },
    axisTick: { show: true, inside: true, length: 5, customValues: infoTicks, lineStyle: axisLineStyle },
    axisLabel: {
      customValues: infoTicks, margin: 4, fontSize: 20, fontFamily: FONT, color: INK,
      formatter: v => (v === 0 ? '0' : v.toFixed(1))
    },
    splitLine: { show: false },
    name: 'Information (bits)', nameLocation: 'middle', nameGap,
    nameTextStyle: { fontSize: 21, fontFamily: FONT, color: INK }
  };
}

function lineSeries(name, color, xs, ys, xAxisIndex, yAxisIndex, width) {
  return {
    type: 'line', name, color, xAxisIndex, yAxisIndex,
    data: xs.map((f, i) => [f, ys[i]]),
    symbol: 'none', showSymbol: false, smooth: false, clip: true,
    lineStyle: { color, width },
    silent: true, animation: false
  };
}

const grids = [
  { left: 107, top: 86, width: 548, height: 167 },   // A
  { left: 770, top: 86, width: 549, height: 169 },   // B
  { left: 107, top: 316, width: 548, height: 167 },  // C
  { left: 770, top: 316, width: 549, height: 169 },  // D
  { left: 107, top: 543, width: 548, height: 138 },  // E
  { left: 771, top: 544, width: 549, height: 136 },  // F
  { left: 1162, top: 77, width: 139, height: 85 }    // inset of B
].map(g => Object.assign({ outerBoundsMode: 'none', containLabel: false }, g));

const xAxes = [
  freqXAxis(0, 23), freqXAxis(1, 23), freqXAxis(2, 23), freqXAxis(3, 23),
  freqXAxis(4, 26), freqXAxis(5, 25),
  {
    type: 'value', gridIndex: 6, min: 93, max: 105,
    axisLine: { show: true, onZero: false, lineStyle: axisLineStyle },
    axisTick: { show: false },
    axisLabel: { customValues: insetTicks, margin: 2, fontSize: 20, fontFamily: FONT, color: INK },
    splitLine: { show: false }
  }
];

const yAxes = [
  ...powerYAxes(0, 5.5, 9.4, decadesLow, 48),
  ...powerYAxes(1, 6.6, 9.36, decadesHigh, 43),
  ...powerYAxes(2, 5.48, 9.4, decadesLow, 48),
  ...powerYAxes(3, 6.62, 9.4, decadesHigh, 43),
  infoYAxis(4, 44),
  infoYAxis(5, 44),
  {
    type: 'value', gridIndex: 6, min: 7.52, max: 8.27, position: 'left',
    axisLine: { show: true, onZero: false, lineStyle: axisLineStyle },
    axisTick: { show: false }, axisLabel: { show: false }, splitLine: { show: false }
  }
];

const series = [];
const spectraPanels = [
  { set: lowCobnSet, x: 0, y: 0 },
  { set: highCobnSet, x: 1, y: 2 },
  { set: lowCubnSet, x: 2, y: 4 },
  { set: highCubnSet, x: 3, y: 6 }
];
spectraPanels.forEach(p => {
  p.set.forEach((vals, k) => series.push(lineSeries(inputLabels[k], inputColors[k], specFreqs, vals, p.x, p.y, 1.2)));
});
beatSet.forEach((vals, k) => {
  const s = lineSeries(inputLabels[k], inputColors[k], insetFreqs, vals, 6, 10, 1.5);
  if (k === 0) {
    s.markLine = {
      silent: true, animation: false, symbol: ['none', 'none'],
      label: { show: false },
      lineStyle: { type: [5, 4], color: INK, width: 1.2 },
      data: insetTicks.map(v => ({ xAxis: v }))
    };
  }
  series.push(s);
});
[[infoLowCobn, infoLowCubn, 4, 8], [infoHighCobn, infoHighCubn, 5, 9]].forEach(([cobn, cubn, xi, yi]) => {
  series.push(lineSeries(netLabels[0], netColors[0], infoFreqs, cobn, xi, yi, 1.3));
  series.push(lineSeries(netLabels[1], netColors[1], infoFreqs, cubn, xi, yi, 1.3));
});

// caption text width scale (the printed caption face is slightly condensed)
const measureCtx = document.createElement('canvas').getContext('2d');
measureCtx.font = '19px "Liberation Sans"';
const capScale = 639 / measureCtx.measureText('column. The first baseline value produces a low-conductance state, while the').width;

const capRich = {
  bb: { fontSize: 19, fontFamily: FONT, fontWeight: 'bold', fill: INK },
  sub: { fontSize: 13, fontFamily: FONT, fill: INK, padding: [8, 0, 0, 0] }
};

function textEl(text, x, y, opts) {
  const o = opts || {};
  return {
    type: 'text', x, y, z: 10, silent: true,
    scaleX: o.scaleX || 1,
    style: {
      text,
      fontSize: o.fontSize || 21,
      fontFamily: FONT,
      fontWeight: o.fontWeight || 'normal',
      fontStyle: o.fontStyle || 'normal',
      fill: INK,
      align: o.align || 'center', textAlign: o.align || 'center',
      verticalAlign: 'middle', textVerticalAlign: 'middle',
      rich: o.rich
    }
  };
}

const headerRich = {
  h: { fontSize: 21, fontFamily: FONT, fontWeight: 'bold', fontStyle: 'italic', fill: INK },
  s: { fontSize: 14, fontFamily: FONT, fontWeight: 'bold', fontStyle: 'italic', fill: INK, padding: [9, 0, 0, 0] }
};

const graphics = [
  { type: 'line', silent: true, shape: { x1: 8, y1: 10, x2: 1342, y2: 10 }, style: { stroke: '#777', lineWidth: 2 } },
  { type: 'line', silent: true, shape: { x1: 8, y1: 10, x2: 8, y2: 998 }, style: { stroke: '#777', lineWidth: 2 } },
  textEl('{h|Low-conductance state (\u03bd}{s|0}{h|=1.5 spikes/ms)}', 381, 39, { rich: headerRich }),
  textEl('{h|High-conductance state (\u03bd}{s|0}{h|=5 spikes/ms)}', 1038, 39, { rich: headerRich }),
  textEl('A', 47, 69, { fontWeight: 'bold', fontSize: 19 }),
  textEl('B', 714, 69, { fontWeight: 'bold', fontSize: 19 }),
  textEl('C', 47, 309, { fontWeight: 'bold', fontSize: 19 }),
  textEl('D', 714, 309, { fontWeight: 'bold', fontSize: 19 }),
  textEl('E', 47, 521, { fontWeight: 'bold', fontSize: 19 }),
  textEl('F', 714, 521, { fontWeight: 'bold', fontSize: 19 }),
  textEl('COBN LFP spectrum', 382, 75),
  textEl('COBN LFP spectrum', 1045, 76),
  textEl('CUBN LFP spectrum', 382, 317),
  textEl('CUBN LFP spectrum', 1045, 316),
  textEl('LFP spectral information', 387, 541),
  textEl('LFP spectral information', 1051, 541),
  textEl('Ext. input', 558, 131, { align: 'right', fontSize: 19 }),
  textEl('frequency', 560, 153, { align: 'right', fontSize: 19 })
];
captionLeft.forEach((line, i) => graphics.push(textEl(line, 24, 779 + i * 25.2, { align: 'left', fontSize: 19, rich: capRich, scaleX: capScale })));
captionRight.forEach((line, i) => graphics.push(textEl(line, 697, 779 + i * 25.2, { align: 'left', fontSize: 19, rich: capRich, scaleX: capScale })));

const legendText = { fontSize: 19, fontFamily: FONT, color: INK };

const chart = echarts.init(document.getElementById('chart'), null, { renderer: 'canvas' });
chart.setOption({
  backgroundColor: '#ffffff',
  animation: false,
  grid: grids,
  xAxis: xAxes,
  yAxis: yAxes,
  legend: [
    { data: inputLabels, orient: 'vertical', left: 567, top: 84, padding: 0, itemGap: -4, itemWidth: 30, itemHeight: 2, icon: 'rect', selectedMode: false, textStyle: legendText },
    { data: netLabels, orient: 'vertical', left: 567, top: 554, padding: 0, itemGap: -5, itemWidth: 30, itemHeight: 2, icon: 'rect', selectedMode: false, textStyle: legendText }
  ],
  series,
  graphic: graphics
});
</script>
</body>
</html>
